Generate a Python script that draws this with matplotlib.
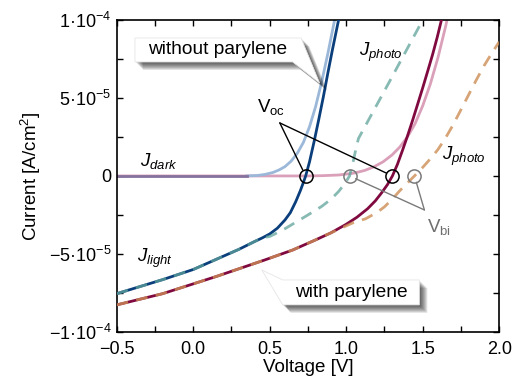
import numpy as np
import matplotlib
matplotlib.use("Agg")
import matplotlib.pyplot as plt
from matplotlib.patches import Polygon
from matplotlib.transforms import ScaledTranslation
from matplotlib.colors import to_rgb

plt.rcParams['font.family'] = ['Liberation Sans', 'DejaVu Sans']
plt.rcParams['mathtext.fontset'] = 'custom'
plt.rcParams['mathtext.rm'] = 'Liberation Sans'
plt.rcParams['mathtext.it'] = 'Liberation Sans:italic'
plt.rcParams['mathtext.bf'] = 'Liberation Sans:bold'

SCALE = 1e-5  # current values below are given in units of 1e-5 A/cm^2

# --- without parylene ---
v_dark_wo = [-0.5, 0.35, 0.42, 0.47, 0.52, 0.56, 0.60, 0.64, 0.68, 0.72, 0.76, 0.80,
             0.84, 0.88, 0.92, 0.935]
j_dark_wo = [0.0, 0.0, 0.03, 0.1, 0.22, 0.38, 0.6, 0.95, 1.45, 2.15, 3.15, 4.45,
             6.05, 7.85, 9.8, 10.6]

v_light_wo = [-0.5, -0.35, -0.2, 0.0, 0.15, 0.30, 0.40, 0.45, 0.50, 0.55, 0.60, 0.635,
              0.67, 0.70, 0.72, 0.735, 0.76, 0.79, 0.82, 0.85, 0.88, 0.91, 0.95, 0.97]
j_light_wo = [-7.55, -7.1, -6.65, -6.0, -5.35, -4.7, -4.21, -3.98, -3.72, -3.35, -2.82, -2.35,
              -1.65, -0.95, -0.42, 0.0, 0.9, 2.2, 3.6, 5.05, 6.6, 8.1, 10.0, 11.0]

v_photo_wo = [-0.5, -0.35, -0.2, 0.0, 0.15, 0.30, 0.40, 0.45, 0.50, 0.58, 0.66, 0.75,
              0.84, 0.90, 0.95, 0.99, 1.022, 1.045, 1.065, 1.08, 1.18, 1.28, 1.39, 1.50, 1.52]
j_photo_wo = [-7.55, -7.1, -6.65, -6.0, -5.35, -4.7, -4.21, -3.98, -3.88, -3.5, -3.03, -2.5,
              -1.95, -1.5, -1.0, -0.5, 0.0, 0.9, 1.8, 2.4, 4.2, 6.0, 8.0, 10.0, 10.4]

# --- with parylene ---
v_dark_w = [-0.5, 0.75, 0.85, 0.95, 1.05, 1.12, 1.18, 1.24, 1.30, 1.35, 1.40, 1.45,
            1.50, 1.55, 1.60, 1.65, 1.67]
j_dark_w = [0.0, 0.0, 0.02, 0.06, 0.18, 0.35, 0.58, 0.9, 1.35, 1.85, 2.5, 3.35,
            4.5, 5.9, 7.6, 9.6, 10.5]

v_light_w = [-0.5, -0.2, 0.15, 0.47, 0.65, 0.80, 0.90, 1.00, 1.07, 1.14, 1.19, 1.23,
             1.27, 1.302, 1.335, 1.37, 1.40, 1.435, 1.47, 1.50, 1.535, 1.565, 1.595, 1.62, 1.64]
j_light_w = [-8.27, -7.55, -6.45, -5.38, -4.75, -4.1, -3.65, -3.1, -2.65, -2.1, -1.6, -1.1,
             -0.55, 0.0, 0.75, 1.7, 2.55, 3.6, 4.7, 5.65, 6.8, 7.8, 8.9, 9.9, 10.7]

v_photo_w = [-0.5, -0.2, 0.15, 0.47, 0.65, 0.80, 0.90, 1.00, 1.05, 1.126, 1.20, 1.25,
             1.30, 1.35, 1.40, 1.446, 1.50, 1.55, 1.60, 1.65, 1.70, 1.75, 1.80, 1.85,
             1.90, 1.95, 2.00]
j_photo_w = [-8.27, -7.55, -6.45, -5.38, -4.75, -4.1, -3.65, -3.2, -2.98, -2.75, -2.35, -1.98,
             -1.5, -0.95, -0.45, 0.0, 0.55, 1.1, 1.7, 2.45, 3.3, 4.25, 5.2, 6.15,
             7.05, 7.85, 8.6]

# open-circuit and built-in voltages (zero crossings)
v_oc = [0.735, 1.302]
v_bi = [1.022, 1.446]

x_ticks = [-0.5, 0.0, 0.5, 1.0, 1.5, 2.0]
y_ticks = [-1e-4, -5e-5, 0.0, 5e-5, 1e-4]
y_tick_labels = [r'$-1·10^{-4}$', r'$-5·10^{-5}$', '0', r'$5·10^{-5}$', r'$1·10^{-4}$']

c_dark_wo = '#9bb8d9'
c_light_wo = '#0b3f7c'
c_photo_wo = '#5fa39a'
c_dark_w = '#dba0b9'
c_light_w = '#800a40'
c_photo_w = '#cd8e55'

fig = plt.figure(figsize=(5.12, 3.85), dpi=100)
ax = fig.add_axes([0.228, 0.138, 0.747, 0.810])


def arr(j):
    return np.asarray(j) * SCALE


lw = 2.0
# dark currents; the flat stretch where both coincide is drawn in their blended tone
ax.plot(v_dark_w, arr(j_dark_w), color=c_dark_w, lw=lw, zorder=2)
jd = np.asarray(j_dark_wo)
k = int(np.max(np.nonzero(jd == 0)[0])) + 1
blend = tuple(a * b for a, b in zip(to_rgb(c_dark_wo), to_rgb(c_dark_w)))
ax.plot(v_dark_wo[k - 1:], arr(j_dark_wo[k - 1:]), color=c_dark_wo, lw=lw, zorder=2)
ax.plot(v_dark_wo[:k], arr(j_dark_wo[:k]), color=blend, lw=lw, zorder=2.1)

# illuminated currents
ax.plot(v_light_w, arr(j_light_w), color=c_light_w, lw=lw, zorder=3)
ax.plot(v_light_wo, arr(j_light_wo), color=c_light_wo, lw=lw, zorder=3)

# photocurrents (dashed)
ax.plot(v_photo_w, arr(j_photo_w), color=c_photo_w, lw=lw, alpha=0.8,
        dashes=(4.2, 3.0), zorder=3.5)
ax.plot(v_photo_wo, arr(j_photo_wo), color=c_photo_wo, lw=lw, alpha=0.75,
        dashes=(4.2, 3.0), zorder=3.5)

# marker circles at the zero crossings
ax.plot(v_oc, [0, 0], ls='none', marker='o', ms=9.5, mfc='none', mec='black', mew=1.1, zorder=6)
ax.plot(v_bi, [0, 0], ls='none', marker='o', ms=9.5, mfc='none', mec='#7a7a7a', mew=1.1, zorder=6)

# leader lines for V_oc and V_bi
apex_oc = (0.566, 3.4e-5)
for v in v_oc:
    ax.annotate('', xy=(v, 0), xytext=apex_oc,
                arrowprops=dict(arrowstyle='-', color='black', lw=1.0, shrinkA=0, shrinkB=4.8),
                zorder=6)
apex_bi = (1.511, -2.18e-5)
for v in v_bi:
    ax.annotate('', xy=(v, 0), xytext=apex_bi,
                arrowprops=dict(arrowstyle='-', color='#7a7a7a', lw=1.0, shrinkA=0, shrinkB=4.8),
                zorder=6)

fs = 13.5
ax.text(0.51, 4.45e-5, r'$\mathrm{V}_{\mathrm{oc}}$', fontsize=fs, ha='center', va='center', zorder=7)
ax.text(1.61, -3.3e-5, r'$\mathrm{V}_{\mathrm{bi}}$', fontsize=fs, ha='center', va='center',
        color='#6e6e6e', zorder=7)
ax.text(-0.35, 0.95e-5, r'$J_{dark}$', fontsize=fs, ha='left', va='center', zorder=7)
ax.text(-0.37, -5.3e-5, r'$J_{light}$', fontsize=fs, ha='left', va='center', zorder=7)
ax.text(1.226, 7.9e-5, r'$J_{photo}$', fontsize=fs, ha='center', va='center', zorder=7)
ax.text(1.772, 1.28e-5, r'$J_{photo}$', fontsize=fs, ha='center', va='center', zorder=7)


def callout(verts, text, text_xy):
    verts = [(x, y * SCALE) for x, y in verts]
    for off in range(1, 9):
        tr = ax.transData + ScaledTranslation(off / 100, -off / 100, fig.dpi_scale_trans)
        ax.add_patch(Polygon(verts, closed=True, transform=tr, facecolor='black',
                             edgecolor='none', alpha=0.11, zorder=7, clip_on=False))
    ax.add_patch(Polygon(verts, closed=True, facecolor='white', edgecolor='#e6e6e6',
                         lw=0.6, zorder=8, clip_on=False))
    ax.text(text_xy[0], text_xy[1] * SCALE, text, fontsize=13.8, ha='center', va='center', zorder=9)


callout([(-0.381, 8.85), (0.705, 8.85), (0.826, 5.96), (0.650, 7.31), (-0.381, 7.31)],
        'without parylene', (0.160, 8.08))
callout([(0.448, -6.03), (0.585, -6.67), (1.478, -6.67), (1.478, -8.27), (0.585, -8.27)],
        'with parylene', (1.035, -7.47))

ax.set_xlim(-0.5, 2.0)
ax.set_ylim(-1e-4, 1e-4)
ax.set_xticks(x_ticks)
ax.set_xticklabels([f'{t:.1f}'.replace('-', '\u2212') for t in x_ticks])
ax.set_xticks(np.arange(-0.5, 2.01, 0.25), minor=True)
ax.set_yticks(y_ticks)
ax.set_yticklabels(y_tick_labels)
ax.set_yticks(np.arange(-1e-4, 1.01e-4, 2.5e-5), minor=True)
ax.tick_params(which='both', direction='in', top=True, right=True, length=4.5, width=1.0,
               labelsize=13)
ax.tick_params(axis='x', pad=6.5)
ax.tick_params(axis='y', pad=4)
for s in ax.spines.values():
    s.set_linewidth(1.2)

ax.set_xlabel('Voltage [V]', fontsize=13.5, labelpad=1)
ax.set_ylabel(r'Current [A/cm$^2$]', fontsize=13.5, labelpad=4)

fig.savefig('out.png', dpi=100)
